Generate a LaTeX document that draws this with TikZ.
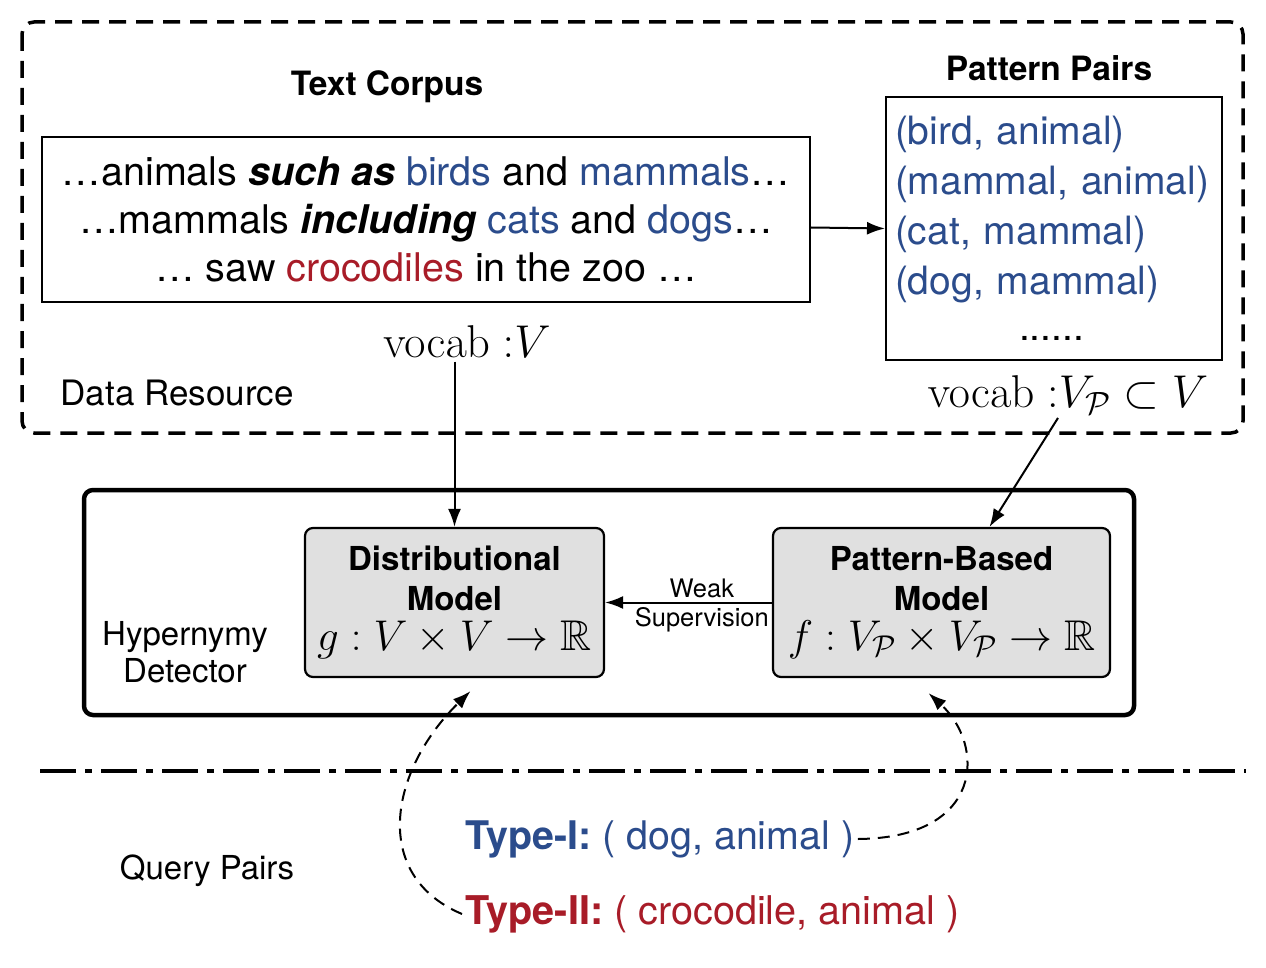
\documentclass[tikz,border=0pt]{standalone}
\usepackage{fix-cm}
\usepackage{amsmath,amssymb}
\usepackage[no-math]{fontspec}
\setmainfont{TeX Gyre Heros}
\usetikzlibrary{shapes,arrows.meta,positioning}
\definecolor{pairblue}{RGB}{43,76,140}
\definecolor{pairred}{RGB}{168,28,40}
\definecolor{boxgray}{RGB}{224,224,224}
\tikzstyle{line2} = [draw, line width=2pt, -{Latex[length=18pt,width=13pt]}]
\tikzstyle{line3} = [draw, line width=2pt, dash pattern=on 12pt off 8pt, -{Latex[length=18pt,width=13pt]}]
\tikzstyle{heading} = [font=\fontsize{33.5}{38}\selectfont\bfseries]
\tikzstyle{tag} = [font=\fontsize{35}{38}\selectfont, align=center]
\tikzstyle{vocab} = [font=\fontsize{46}{50}\selectfont]
\tikzstyle{textbox} = [rectangle, draw, line width=2pt]
\tikzstyle{model} = [rectangle, draw, line width=2.2pt, fill=boxgray, rounded corners=8pt, minimum height=149pt, align=center, font=\fontsize{33}{40}\selectfont]
\tikzstyle{weak} = [font=\fontsize{25.5}{28}\selectfont, inner sep=4pt, pos=0.42]
\newcommand{\mathline}[1]{{\fontsize{43}{44}\selectfont #1}}

\begin{document}
\begin{tikzpicture}[x=1pt, y=-1pt]
			\useasboundingbox (0, 0) rectangle (1266, 968);
			% Data resource
			\draw [line width=3.5pt, dash pattern=on 17pt off 10pt, rounded corners=12pt] (22, 22) rectangle (1243, 433);
			\node [heading] (corpustitle) at (387, 87) {Text Corpus};
			\node [textbox, minimum width=768pt, minimum height=165pt, align=center, font=\fontsize{39.5}{48}\selectfont] (corpus) at (426, 219.5)
				{…animals \textbf{\textit{such as}} \textcolor{pairblue}{birds} and \textcolor{pairblue}{mammals}…\\
				…mammals \textbf{\textit{including}} \textcolor{pairblue}{cats} and \textcolor{pairblue}{dogs}…\\
				… saw \textcolor{pairred}{crocodiles} in the zoo …};
			\node [heading] (pairstitle) at (1049, 68) {Pattern Pairs};
			\node [textbox, minimum width=336pt, minimum height=263pt, text width=318pt, align=left, text=pairblue, font=\fontsize{39}{50}\selectfont] (pairs) at (1054, 228.5)
				{(bird, animal)\\(mammal, animal)\\(cat, mammal)\\(dog, mammal)\\[-4pt]\hspace*{124pt}\textcolor{black}{......}};
			\node [vocab] (vocabV) at (467, 342) {$\mathrm{vocab}\;{:}V$};
			\node [vocab] (vocabP) at (1068, 395) {$\mathrm{vocab}\;{:}V_{\mathcal{P}}\subset V$};
			\node [tag] (resource) at (177, 393) {Data Resource};
			
			% Hypernymy detector
			\node [rectangle, draw, line width=4.5pt, rounded corners=9pt, minimum width=1050pt, minimum height=225pt] (detector) at (609, 602.5) {};
			\node [tag, font=\fontsize{33}{37}\selectfont] (detectorname) at (185, 652) {Hypernymy\\Detector};
			\node [model, minimum width=299pt] (dist) at (454.5, 602.5)
				{\textbf{Distributional}\\\textbf{Model}\\\mathline{$g : V\times V\to\mathbb{R}$}};
			\node [model, minimum width=337pt] (pbm) at (941.5, 602.5)
				{\textbf{Pattern-Based}\\\textbf{Model}\\\mathline{$f : V_{\mathcal{P}}\times V_{\mathcal{P}}\to\mathbb{R}$}};
			
			% Query pairs
			\draw [line width=3.5pt, dash pattern=on 36pt off 9pt on 7pt off 9pt] (40, 771) -- (1246, 771);
			\node [tag, font=\fontsize{33}{37}\selectfont] (query) at (207, 871) {Query Pairs};
			\node [anchor=west, text=pairblue, font=\fontsize{39.4}{42}\selectfont] (type1) at (462, 839) {\textbf{Type-I:} ( dog, animal )};
			\node [anchor=west, text=pairred, font=\fontsize{39.6}{42}\selectfont] (type2) at (462, 914) {\textbf{Type-II:} ( crocodile, animal )};
			
			% Draw edges
			\path [line2] ([yshift=-8pt]corpus.east) -- (pairs.west);
			\path [line2] (vocabV.south -| dist.north) -- (dist.north);
			\path [line2] ([xshift=-10pt]vocabP.south) -- ([xshift=48pt]pbm.north);
			\path [line2] (pbm.west) -- node [weak, above] {Weak} node [weak, below] {Supervision} (dist.east);
			\path [line3] (type1.east) .. controls (985, 838) and (985, 745) .. ([xshift=-13pt, yshift=-15pt]pbm.south);
			\path [line3] (type2.west) .. controls (370, 875) and (390, 770) .. ([xshift=16pt, yshift=-13pt]dist.south);
		\end{tikzpicture}
\end{document}
